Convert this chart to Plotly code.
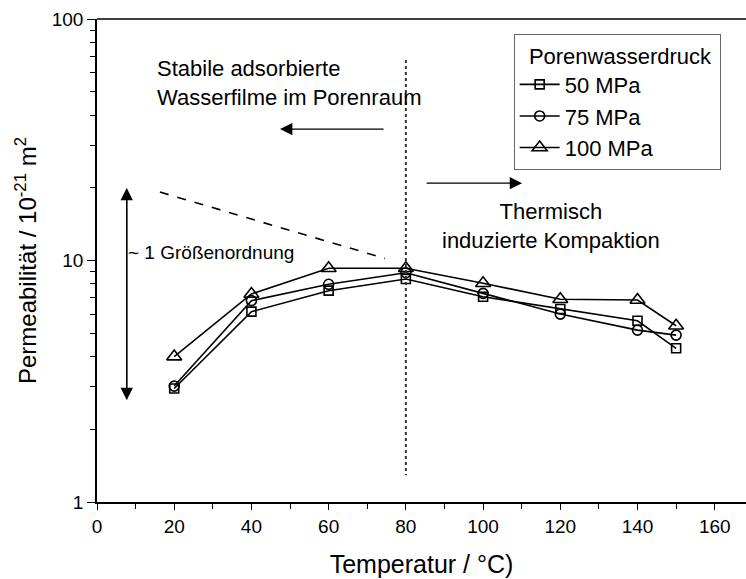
import math
import plotly.graph_objects as go

temps = [20, 40, 60, 80, 100, 120, 140, 150]
p50 = [2.95, 6.14, 7.50, 8.38, 7.08, 6.30, 5.63, 4.33]
p75 = [3.02, 6.82, 7.97, 8.90, 7.31, 6.00, 5.15, 4.91]
p100 = [4.00, 7.27, 9.29, 9.29, 8.05, 6.91, 6.86, 5.37]
series_names = ["50 MPa", "75 MPa", "100 MPa"]
symbols = ["square-open", "circle-open", "triangle-up-open"]
sizes = [9, 10, 13]

L = math.log10

fig = go.Figure()
for name, vals, sym, sz in zip(series_names, [p50, p75, p100], symbols, sizes):
    fig.add_trace(go.Scatter(
        x=temps, y=vals, name=name, mode="lines+markers",
        line=dict(color="black", width=1.6),
        marker=dict(symbol=sym, size=sz, color="black", line=dict(width=1.6, color="black")),
    ))

# vertical dotted line at 80 °C
fig.add_trace(go.Scatter(x=[80, 80], y=[67.6, 1.29], mode="lines", showlegend=False,
                         line=dict(color="#333", width=2, dash="dot"), hoverinfo="skip"))
# dashed trend line
fig.add_trace(go.Scatter(x=[16.3, 74.6], y=[19.2, 10.2], mode="lines", showlegend=False,
                         line=dict(color="black", width=1.6, dash="dash"), hoverinfo="skip"))

font = "Liberation Sans, Arial, sans-serif"

def arrow(x0, y0, x1, y1):
    fig.add_annotation(x=x1, y=L(y1), ax=x0, ay=L(y0), xref="x", yref="y", axref="x", ayref="y",
                       showarrow=True, arrowhead=2, arrowsize=1.9, arrowwidth=1.3,
                       arrowcolor="black", text="")

# double-headed arrow
arrow(7.7, 2.64, 7.7, 19.96)
arrow(7.7, 19.96, 7.7, 2.64)
# left arrow
arrow(74.6, 35.0, 47.4, 35.0)
# right arrow
arrow(85.0, 20.9, 110.1, 20.9)

fig.add_annotation(x=15.0, y=1.735, xref="x", yref="y", showarrow=False,
                   xanchor="left", yanchor="middle",
                   text="Stabile adsorbierte<br>Wasserfilme im Porenraum",
                   font=dict(family=font, size=22, color="black"), align="left")
fig.add_annotation(x=117.6, y=1.143, xref="x", yref="y", showarrow=False,
                   xanchor="center", yanchor="middle",
                   text="Thermisch<br>induzierte Kompaktion",
                   font=dict(family=font, size=22, color="black"), align="center")
fig.add_annotation(x=7.6, y=1.035, xref="x", yref="y", showarrow=False,
                   xanchor="left", yanchor="middle",
                   text="~ 1 Größenordnung",
                   font=dict(family=font, size=19, color="black"))

minor_y = [2, 3, 4, 5, 6, 7, 8, 9, 20, 30, 40, 50, 60, 70, 80, 90]

fig.update_layout(
    width=746, height=579,
    margin=dict(l=97, r=0, t=19, b=77),
    paper_bgcolor="white", plot_bgcolor="white",
    font=dict(family=font, size=19, color="black"),
    legend=dict(x=0.642, y=0.969, xanchor="left", yanchor="top",
                bordercolor="#666", borderwidth=1, bgcolor="white",
                title=dict(text="\u00a0\u00a0Porenwasserdruck\u00a0", font=dict(size=22)),
                font=dict(size=22), itemwidth=40, tracegroupgap=0),
    xaxis=dict(range=[0, 168.1], tickvals=[0, 20, 40, 60, 80, 100, 120, 140, 160],
               ticks="outside", ticklen=6, tickwidth=1.3, tickcolor="black",
               showline=True, linecolor="black", linewidth=1.5, mirror=False,
               showgrid=False, zeroline=False, tickfont=dict(size=19),
               minor=dict(tickvals=[10, 30, 50, 70, 90, 110, 130, 150], ticks="outside",
                          ticklen=5, tickwidth=1.3, tickcolor="black", showgrid=False),
               title=dict(text="Temperatur / °C)", font=dict(size=25), standoff=20)),
    yaxis=dict(type="log", range=[0, 2], tickvals=[1, 10, 100], ticktext=["1", "10", "100"],
               ticks="outside", ticklen=8, tickwidth=1.3, tickcolor="black",
               showline=True, linecolor="black", linewidth=1.5,
               showgrid=False, zeroline=False, tickfont=dict(size=19),
               minor=dict(tickvals=minor_y, ticks="outside", ticklen=5, tickwidth=1.3,
                          tickcolor="black", showgrid=False),
               title=dict(text="Permeabilität / 10<sup>-21</sup> m<sup>2</sup>",
                          font=dict(size=24), standoff=8)),
)
# top border line
fig.add_shape(type="line", xref="paper", yref="paper", x0=0, x1=1, y0=1, y1=1,
              line=dict(color="black", width=1.5))

fig.write_html("out.html")
